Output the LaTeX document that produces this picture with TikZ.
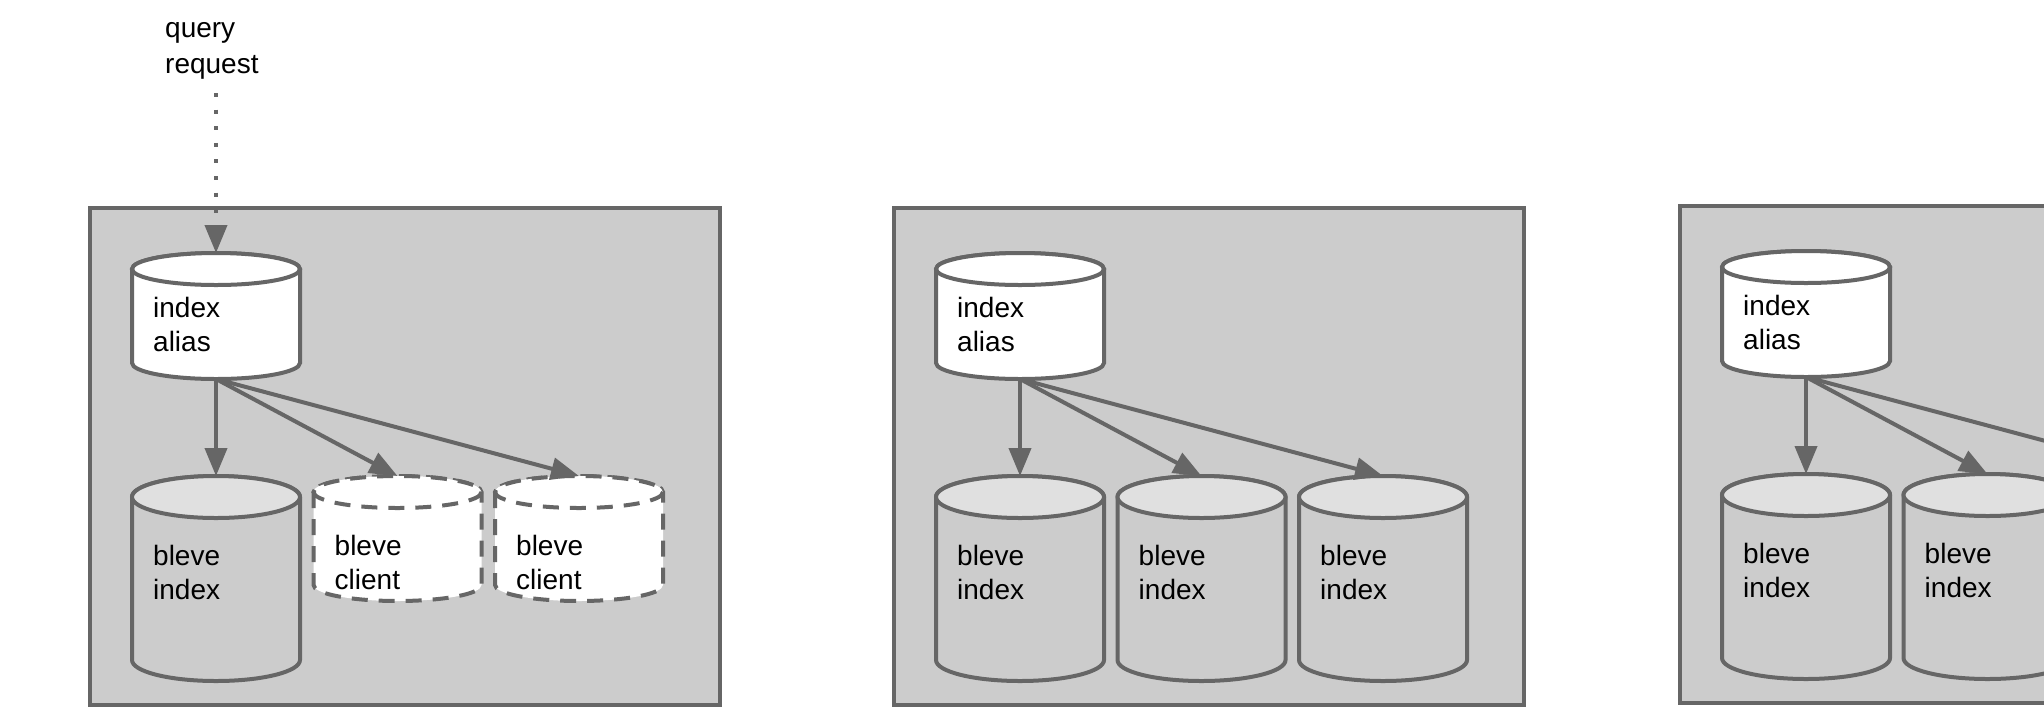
\documentclass[tikz,border=0pt]{standalone}
\usepackage{fontspec}
\setmainfont{Liberation Sans}
\usetikzlibrary{arrows.meta}
\definecolor{edgegray}{HTML}{666666}
\definecolor{panelgray}{HTML}{CCCCCC}
\definecolor{topgray}{HTML}{E0E0E0}
\newcommand\tl[2]{\parbox[t]{200pt}{#1\\#2}}
% #1 name, #2 x0, #3 y0, #4 height, #5 ry, #6 style, #7 top fill, #8 first baseline offset, #9 text
\newcommand\can[9]{%
  \path[#6] (#2,#3+#5) -- (#2,#3+#4-#5)
     arc[start angle=180,end angle=0,x radius=84,y radius=#5]
     -- (#2+168,#3+#5)
     arc[start angle=0,end angle=-180,x radius=84,y radius=#5] -- cycle;
  \path[#6,fill=#7] (#2+84,#3+#5) ellipse[x radius=84,y radius=#5];
  \coordinate (#1-t) at (#2+84,#3);
  \coordinate (#1-b) at (#2+84,#3+#4);
  \node[lbl] (#1) at (#2+21,#3+#8) {#9};
}
\begin{document}
\begin{tikzpicture}[x=1pt,y=-1pt,
  lbl/.style={anchor=base west,inner sep=0pt,text=black,font=\fontsize{28}{34}\selectfont},
  panelbox/.style={draw=edgegray,fill=panelgray,line width=4pt},
  aliascan/.style={draw=edgegray,fill=white,line width=4pt},
  idxcan/.style={draw=edgegray,fill=panelgray,line width=4pt},
  clientcan/.style={draw=edgegray,fill=white,line width=4pt,dash pattern=on 16pt off 11pt},
  conn/.style={draw=edgegray,line width=4pt,-{Triangle[length=28pt,width=22pt]}},
  dotconn/.style={draw=edgegray,line width=4pt,dash pattern=on 4pt off 12.6pt,-{Triangle[length=28pt,width=22pt]}}]
\useasboundingbox (0,0) rectangle (2044,724);
\clip (0,0) rectangle (2044,724);
\fill[white] (0,0) rectangle (2044,724);

% query request
\node[lbl,font=\fontsize{28}{36}\selectfont] (qr) at (165,37) {\tl{query}{request}};

% ---------- panel 1 ----------
\draw[panelbox] (90,208) rectangle (720,705);
\can{a1}{132}{253}{126}{16}{aliascan}{white}{64}{\tl{index}{alias}}
\can{b1}{132}{476}{205}{21}{idxcan}{topgray}{89}{\tl{bleve}{index}}
\can{c1}{313.5}{476}{125}{16}{clientcan}{white}{79}{\tl{bleve}{client}}
\can{c2}{495}{476}{125}{16}{clientcan}{white}{79}{\tl{bleve}{client}}
\coordinate (qs) at (216,93);
\draw[dotconn] (qs) -- (a1-t);
\draw[conn] (a1-b) -- (b1-t);
\draw[conn] (a1-b) -- (c1-t);
\draw[conn] (a1-b) -- (c2-t);

% ---------- panel 2 ----------
\draw[panelbox] (894,208) rectangle (1524,705);
\can{a2}{936}{253}{126}{16}{aliascan}{white}{64}{\tl{index}{alias}}
\can{b21}{936}{476}{205}{21}{idxcan}{topgray}{89}{\tl{bleve}{index}}
\can{b22}{1117.5}{476}{205}{21}{idxcan}{topgray}{89}{\tl{bleve}{index}}
\can{b23}{1299}{476}{205}{21}{idxcan}{topgray}{89}{\tl{bleve}{index}}
\draw[conn] (a2-b) -- (b21-t);
\draw[conn] (a2-b) -- (b22-t);
\draw[conn] (a2-b) -- (b23-t);

% ---------- panel 3 (cut by the right edge) ----------
\draw[panelbox] (1680,206) rectangle (2310,703);
\can{a3}{1722}{251}{126}{16}{aliascan}{white}{64}{\tl{index}{alias}}
\can{b31}{1722}{474}{205}{21}{idxcan}{topgray}{89}{\tl{bleve}{index}}
\can{b32}{1903.5}{474}{205}{21}{idxcan}{topgray}{89}{\tl{bleve}{index}}
\can{b33}{2085}{474}{205}{21}{idxcan}{topgray}{89}{}
\draw[conn] (a3-b) -- (b31-t);
\draw[conn] (a3-b) -- (b32-t);
\draw[conn] (a3-b) -- (b33-t);
\end{tikzpicture}
\end{document}
